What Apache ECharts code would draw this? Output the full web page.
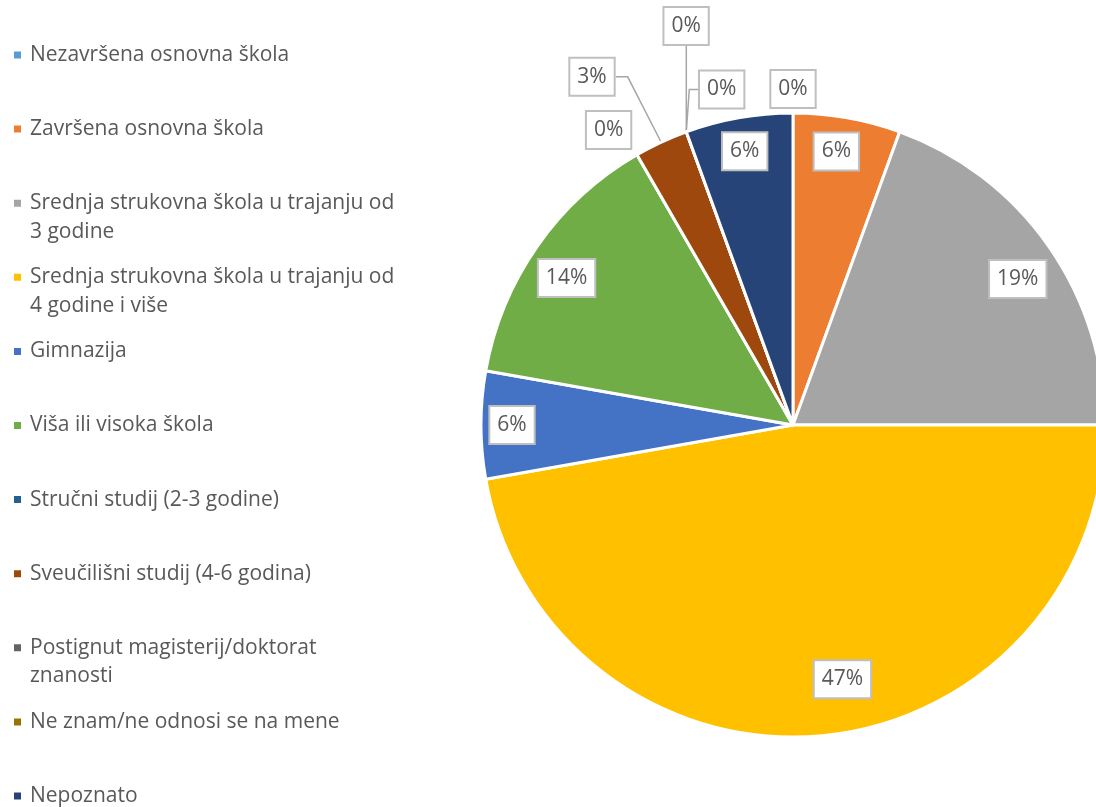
<!DOCTYPE html>
<html>
<head>
<meta charset="utf-8">
<script src="https://cdn.jsdelivr.net/npm/echarts@6/dist/echarts.min.js"></script>
<style>
  html, body { margin: 0; padding: 0; background: #fff; }
  #chart { width: 1096px; height: 807px; }
</style>
</head>
<body>
<div id="chart"></div>
<script>
var categories = [
    'Nezavršena osnovna škola',
    'Završena osnovna škola',
    'Srednja strukovna škola u trajanju od 3 godine',
    'Srednja strukovna škola u trajanju od 4 godine i više',
    'Gimnazija',
    'Viša ili visoka škola',
    'Stručni studij (2-3 godine)',
    'Sveučilišni studij (4-6 godina)',
    'Postignut magisterij/doktorat znanosti',
    'Ne znam/ne odnosi se na mene',
    'Nepoznato'
]
var values = [0, 2, 7, 17, 2, 5, 0, 1, 0, 0, 2]
var colors = ['#5B9BD5', '#ED7D31', '#A5A5A5', '#FFC000', '#4472C4', '#70AD47',
              '#255E91', '#9E480E', '#636363', '#997300', '#264478']

var FONT = '"Open Sans", Lato, sans-serif'
var cx = 793, cy = 425, R = 312

// where excel put each label: distance from centre, nudge in degrees, leader style
var labelPlace = [
    { r: 336, da: 0 },
    { r: 277, da: -1 },
    { r: 268, da: 2 },
    { r: 259, da: -6 },
    { r: 281, da: 0 },
    { r: 270, da: -2 },
    { r: 348, da: -2 },
    { r: 402, da: -5, line: 'elbowLeft' },
    { r: 413, da: 5, line: 'up' },
    { r: 343, da: 8, line: 'elbowRight' },
    { r: 278, da: 0 }
]

var total = values.reduce(function(a, b) { return a + b }, 0)

function sliceAngles(i) {
    var before = 0
    for (var k = 0; k < i; k++) before += values[k]
    var a0 = before / total * 360
    var a1 = (before + values[i]) / total * 360
    return { start: a0, mid: (a0 + a1) / 2 }
}

function polar(deg, r) {
    var a = deg * Math.PI / 180
    return [cx + r * Math.sin(a), cy - r * Math.cos(a)]
}

// break long legend names into lines of at most 37 chars
function wrap(name) {
    var words = name.split(' '), lines = [], cur = ''
    words.forEach(function(w) {
        var next = cur ? cur + ' ' + w : w
        if (next.length > 37 && cur) {
            lines.push(cur)
            cur = w
        } else {
            cur = next
        }
    })
    lines.push(cur)
    return lines
}

var LH = 28.5
var legends = categories.map(function(name, i) {
    var lines = wrap(name)
    var iconY = 55 + i * 74.1
    return {
        data: [name],
        orient: 'vertical',
        left: 12,
        top: iconY - LH / 2 - (lines.length > 1 ? LH : 0),
        padding: 0,
        icon: 'rect',
        itemWidth: 9,
        itemHeight: 9,
        selectedMode: false,
        formatter: function(n) {
            var l = wrap(n)
            return l.length > 1 ? '\n' + l.join('\n') : l[0]
        },
        textStyle: {
            fontFamily: FONT,
            fontSize: 21,
            color: '#595959',
            lineHeight: LH,
            padding: [0, 0, 0, 3]
        }
    }
})

var pieData = categories.map(function(name, i) {
    return {
        name: name,
        value: values[i],
        labelLine: { show: !!labelPlace[i].line }
    }
})

var chart = echarts.init(document.getElementById('chart'))

chart.setOption({
    color: colors,
    animation: false,
    legend: legends,
    series: [{
        type: 'pie',
        center: [cx, cy],
        radius: R,
        startAngle: 90,
        clockwise: true,
        avoidLabelOverlap: false,
        itemStyle: { borderColor: '#fff', borderWidth: 3 },
        emphasis: { disabled: true },
        label: {
            show: true,
            position: 'outside',
            formatter: function(p) { return Math.round(p.percent) + '%' },
            fontFamily: FONT,
            fontSize: 21,
            color: '#595959',
            lineHeight: 25,
            backgroundColor: '#fff',
            borderColor: '#BFBFBF',
            borderWidth: 2,
            padding: [6, 7, 5, 7]
        },
        labelLine: {
            show: false,
            smooth: false,
            lineStyle: { color: '#A6A6A6', width: 1.5 }
        },
        labelLayout: function(params) {
            var i = params.dataIndex
            var spec = labelPlace[i]
            var ang = sliceAngles(i)
            var pos = polar(ang.mid + spec.da, spec.r)
            var w = params.labelRect.width, h = params.labelRect.height
            var out = { x: pos[0], y: pos[1], align: 'center', verticalAlign: 'middle' }
            if (spec.line) {
                var s = polar(ang.mid, R)
                if (spec.line === 'elbowLeft') {
                    out.labelLinePoints = [s, [pos[0] + w / 2 + 12, pos[1]], [pos[0] + w / 2, pos[1]]]
                } else if (spec.line === 'up') {
                    out.labelLinePoints = [s, [s[0], (s[1] + pos[1] + h / 2) / 2], [s[0], pos[1] + h / 2]]
                } else {
                    out.labelLinePoints = [s, [s[0] + 3, pos[1]], [pos[0] - w / 2, pos[1]]]
                }
            }
            return out
        },
        data: pieData
    }]
})
</script>
</body>
</html>
